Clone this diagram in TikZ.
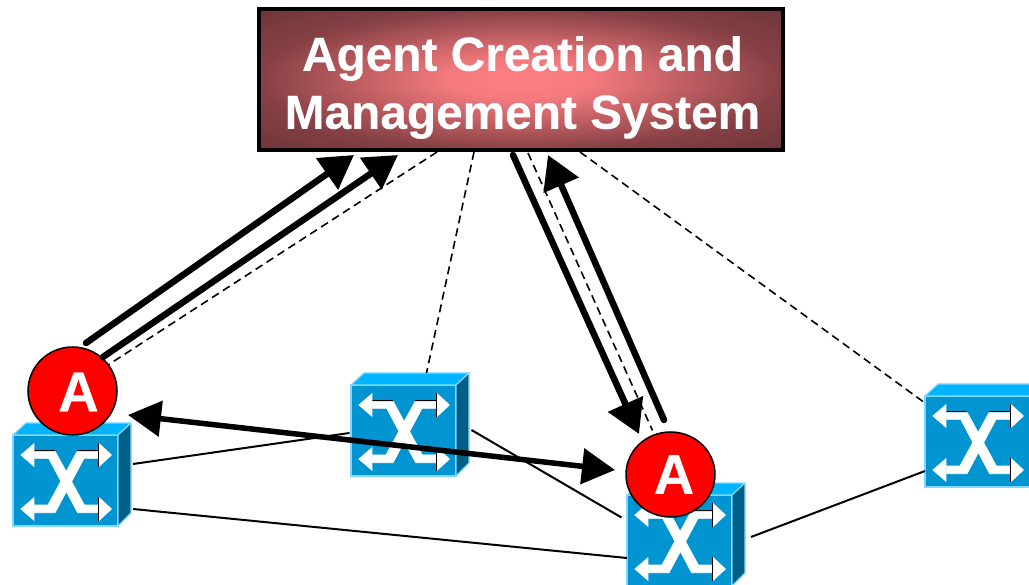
\documentclass[tikz,border=0pt]{standalone}
\usepackage{fontspec}
\setmainfont[BoldFeatures={FakeBold=0.25}]{Liberation Sans}
\usetikzlibrary{arrows.meta,shapes.geometric}
\definecolor{swfront}{HTML}{0095D0}
\definecolor{swtop}{HTML}{00B4FF}
\definecolor{swside}{HTML}{005F87}
\definecolor{swedge}{HTML}{80D8FF}
\definecolor{boxmid}{HTML}{FF8084}
\definecolor{boxout}{HTML}{703539}
\pgfdeclareradialshading{agentshade}{\pgfpoint{0bp}{0bp}}{%
  color(0bp)=(boxmid);color(7bp)=(boxmid!92!boxout);color(25bp)=(boxout!85!boxmid);color(35bp)=(boxout);color(50bp)=(boxout)}
\tikzset{
  swface/.style={draw=swedge,line width=1.2pt,fill=swfront,minimum width=105pt,minimum height=91pt,inner sep=0pt,outer sep=0pt},
  swpart/.style={draw=swedge,line width=1.2pt,line join=round},
  iconwhite/.style={fill=white,draw=none},
  iconbar/.style={fill=white,draw=white,line width=0.8pt},
  iconblack/.style={draw=black,line width=1.3pt},
  agenttext/.style={text=white,align=center,font=\fontsize{47.8}{58}\selectfont\bfseries},
  agentnode/.style={draw=black,line width=3.5pt,shading=agentshade,minimum width=524pt,minimum height=141pt,inner sep=0pt},
  agentmark/.style={ellipse,draw=black,line width=1.5pt,fill=red,inner sep=0pt,outer sep=0pt},
  marktext/.style={text=white,font=\fontsize{56}{56}\selectfont\bfseries,inner sep=0pt},
  thinlink/.style={draw=black,line width=2pt},
  dashlink/.style={draw=black,line width=1.6pt,dash pattern=on 8pt off 5pt},
  thicklink/.style={draw=black,line width=6.5pt,line cap=round,-{Triangle[length=33pt,width=37pt]}},
  bothlink/.style={draw=black,line width=5.5pt,{Triangle[length=33pt,width=35pt]}-{Triangle[length=33pt,width=35pt]}}
}
\newcommand{\switchbox}[3]{%
  \node[swface] (#1) at (#2+52.5,#3+45.5) {};
  \begin{scope}[shift={(#2,#3)}]
    \draw[swpart,fill=swtop] (0,0) -- (13,-12) -- (118,-12) -- (105,0) -- cycle;
    \draw[swpart,fill=swside] (105,0) -- (118,-12) -- (118,78) -- (105,91) -- cycle;
    \fill[iconbar] (21.3,16.7) -- (42.3,16.7) -- (71.3,70) -- (85.7,70) -- (85.7,77.7) -- (64.7,77.7) -- (35.7,23.3) -- (21.3,23.3) -- cycle;
    \fill[iconbar] (85,16.7) -- (64,16.7) -- (35,70) -- (21.3,70) -- (21.3,77.7) -- (42,77.7) -- (71,23.3) -- (85,23.3) -- cycle;
    \draw[iconblack] (21.3,15.6) -- (42.3,15.6) (64,15.6) -- (85.7,15.6)
      (85.4,8) -- (85.4,32) (85.4,62) -- (85.4,86);
    \fill[iconwhite] (7.3,20) -- (21.3,8) -- (21.3,32) -- cycle;
    \fill[iconwhite] (99,20) -- (86,8) -- (86,32) -- cycle;
    \fill[iconwhite] (7.3,74) -- (21.3,62) -- (21.3,86) -- cycle;
    \fill[iconwhite] (99,74) -- (86,62) -- (86,86) -- cycle;
  \end{scope}}
\begin{document}
\begin{tikzpicture}[x=1pt,y=-1pt]
\useasboundingbox (0,0) rectangle (1029,585);
\clip (0,0) rectangle (1029,585);
% switches
\switchbox{swa}{13}{435}
\switchbox{swb}{351}{385}
\switchbox{swc}{925}{396}
\switchbox{swd}{627}{495}
% management system
\node[agentnode] (agent) at (521,79.5) {};
\node[agenttext] (agentlabel) at (522.5,87.5) {Agent Creation and\\Management System};
% agent marks
\node[agentmark,minimum width=89pt,minimum height=88pt] (ma) at (72.5,391) {};
\node[marktext] (mal) at (78.5,392) {A};
\node[agentmark,minimum width=89pt,minimum height=85pt] (mb) at (670.5,474.5) {};
\node[marktext] (mbl) at (674,474.5) {A};
% physical links
\draw[thinlink] ([shift={(67.5,-16.5)}]swa.center) -- ([shift={(-54,2.5)}]swb.center);
\draw[thinlink] ([shift={(67.5,28.5)}]swa.center) -- ([shift={(-52.5,17.5)}]swd.center);
\draw[thinlink] ([shift={(68,-0.5)}]swb.center) -- ([shift={(-58,-23)}]swd.center);
\draw[thinlink] ([shift={(71.5,-3.5)}]swd.center) -- ([shift={(-52.5,29.5)}]swc.center);
% dashed links
\draw[dashlink] ([shift={(-84,72.5)}]agent.center) -- ([shift={(35.5,-26)}]ma.center);
\draw[dashlink] ([shift={(-47,72.5)}]agent.center) -- ([shift={(23,-57.5)}]swb.center);
\draw[dashlink] ([shift={(7,73.5)}]agent.center) -- ([shift={(-18,-44)}]mb.center);
\draw[dashlink] ([shift={(59,72.5)}]agent.center) -- ([shift={(-52.5,-38.5)}]swc.center);
% thick arrows
\draw[thicklink] ([shift={(13.5,-48)}]ma.center) -- ([shift={(-167,75.5)}]agent.center);
\draw[thicklink] ([shift={(30.5,-34)}]ma.center) -- ([shift={(-123,75.5)}]agent.center);
\draw[thicklink] ([shift={(-8,75.5)}]agent.center) -- ([shift={(-31.5,-40.5)}]mb.center);
\draw[thicklink] ([shift={(-6.5,-54.5)}]mb.center) -- ([shift={(27,75.5)}]agent.center);
\draw[bothlink] ([shift={(55.5,24)}]ma.center) -- ([shift={(-55.5,-4.5)}]mb.center);
\end{tikzpicture}
\end{document}
